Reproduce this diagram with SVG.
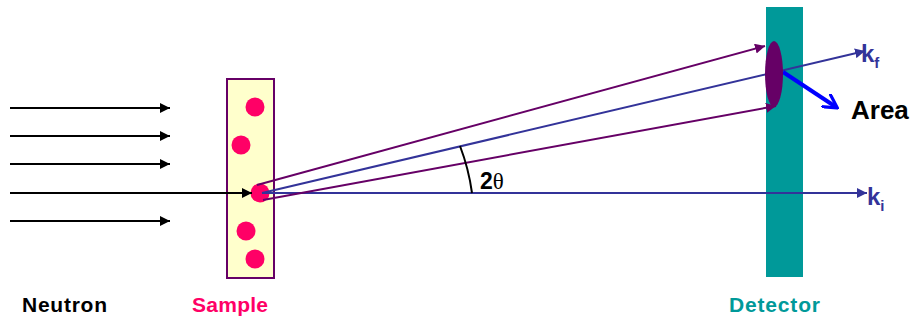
<svg xmlns="http://www.w3.org/2000/svg" width="914" height="320" viewBox="0 0 914 320">
<style>
.nb{stroke:#000;stroke-width:2;fill:none}
.pl{stroke:#660066;stroke-width:2;fill:none}
.bl{stroke:#333399;stroke-width:2;fill:none}
.dot{fill:#FF0066}
.lab{font-family:"Liberation Sans",Arial,sans-serif;font-weight:bold;font-size:21px}
.k{font-family:"Liberation Sans",Arial,sans-serif;font-weight:bold;fill:#333399}
</style>
<defs>
<marker id="ab" viewBox="0 0 10 10" refX="10" refY="5" markerWidth="5" markerHeight="5" orient="auto" markerUnits="strokeWidth"><path d="M0,0 L10,5 L0,10 z" fill="#000"/></marker>
<marker id="ap" viewBox="0 0 10 10" refX="10" refY="5" markerWidth="5" markerHeight="5" orient="auto" markerUnits="strokeWidth"><path d="M0,0 L10,5 L0,10 z" fill="#660066"/></marker>
<marker id="abl" viewBox="0 0 10 10" refX="10" refY="5" markerWidth="5" markerHeight="5" orient="auto" markerUnits="strokeWidth"><path d="M0,0 L10,5 L0,10 z" fill="#333399"/></marker>
<marker id="aB" viewBox="0 0 10 10" refX="8" refY="5" markerWidth="4" markerHeight="4" orient="auto" markerUnits="strokeWidth"><path d="M0,0 L9,5 L0,10" fill="none" stroke="#0000FF" stroke-width="2"/></marker>
</defs>

<g id="detector">
<rect x="766" y="7" width="37" height="270" fill="#009999"/>
</g>

<g id="sample">
<rect x="227" y="79" width="47" height="199" fill="#FFFFCC" stroke="#660066" stroke-width="2"/>
<circle class="dot" cx="255" cy="107" r="9.5"/>
<circle class="dot" cx="241" cy="145" r="9.5"/>
<circle class="dot" cx="246" cy="231" r="9.5"/>
<circle class="dot" cx="255" cy="259" r="9.5"/>
<circle class="dot" cx="260" cy="193" r="9.5"/>
</g>

<g id="connectors">
<line class="nb" x1="10" y1="108" x2="170" y2="108" marker-end="url(#ab)"/>
<line class="nb" x1="10" y1="136" x2="170" y2="136" marker-end="url(#ab)"/>
<line class="nb" x1="10" y1="164" x2="170" y2="164" marker-end="url(#ab)"/>
<line class="nb" x1="10" y1="193" x2="252" y2="193" marker-end="url(#ab)"/>
<line class="nb" x1="10" y1="221" x2="170" y2="221" marker-end="url(#ab)"/>
<line class="bl" x1="262" y1="193" x2="867" y2="193" marker-end="url(#abl)"/>
<line class="bl" x1="262" y1="193" x2="865" y2="51" marker-end="url(#abl)"/>
<line class="pl" x1="257" y1="185" x2="765" y2="46" marker-end="url(#ap)"/>
<line class="pl" x1="263" y1="200" x2="776" y2="106" marker-end="url(#ap)"/>
<path d="M460,146 A210,210 0 0 1 472,193" stroke="#000" stroke-width="2" fill="none"/>
<line x1="783" y1="72" x2="836" y2="107" stroke="#0000FF" stroke-width="4" marker-end="url(#aB)"/>
</g>

<g id="spot">
<ellipse cx="774" cy="74" rx="9" ry="33" fill="#660066"/>
</g>

<g id="labels">
<text class="lab" x="22" y="312" fill="#000" textLength="85">Neutron</text>
<text class="lab" x="192" y="312" fill="#FF0066" textLength="76">Sample</text>
<text class="lab" x="729" y="312" fill="#009999" textLength="91">Detector</text>
<text x="851" y="119" font-family="Liberation Sans,Arial,sans-serif" font-weight="bold" font-size="26" fill="#000">Area</text>
<text x="480" y="189" font-family="Liberation Sans,Arial,sans-serif" font-weight="bold" font-size="23" fill="#000">2<tspan font-family="Liberation Serif,serif" font-weight="normal">θ</tspan></text>
<text class="k" x="861" y="62" font-size="24">k<tspan font-size="15" dy="6">f</tspan></text>
<text class="k" x="867" y="205" font-size="24">k<tspan font-size="15" dy="6">i</tspan></text>
</g>
</svg>
